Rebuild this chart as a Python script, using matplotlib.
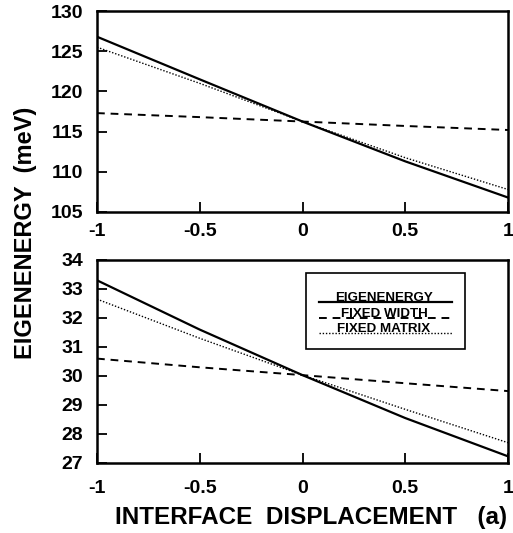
import matplotlib.pyplot as plt
from matplotlib.patches import Rectangle

# ------------------------------------------------------------------
# Data
# ------------------------------------------------------------------
displacement = [-1.0, -0.5, 0.0, 0.5, 1.0]

top_eigen = [126.8, 121.5, 116.25, 111.3, 106.8]
top_fixed_width = [117.3, 116.8, 116.25, 115.7, 115.2]
top_fixed_matrix = [125.5, 121.0, 116.25, 111.75, 107.8]

bot_eigen = [33.3, 31.6, 30.03, 28.55, 27.23]
bot_fixed_width = [30.6, 30.3, 30.03, 29.75, 29.48]
bot_fixed_matrix = [32.65, 31.3, 30.03, 28.85, 27.7]

x_ticks = [-1, -0.5, 0, 0.5, 1]
x_tick_labels = ["-1", "-0.5", "0", "0.5", "1"]
top_y_ticks = [105, 110, 115, 120, 125, 130]
bot_y_ticks = [27, 28, 29, 30, 31, 32, 33, 34]

legend_labels = ["EIGENENERGY", "FIXED WIDTH", "FIXED MATRIX"]

plt.rcParams["font.family"] = ["Liberation Sans", "DejaVu Sans"]
plt.rcParams["font.weight"] = "bold"

fig = plt.figure(figsize=(5.13, 5.33), dpi=100)
ax_top = fig.add_axes([97 / 513, 1 - 212 / 533, 411 / 513, 201 / 533])
ax_bot = fig.add_axes([97 / 513, 1 - 463 / 533, 411 / 513, 203 / 533])

styles = [
    dict(color="black", lw=1.6, ls="-"),
    dict(color="black", lw=1.4, ls=(0, (4, 3))),
    dict(color="black", lw=1.0, ls=(0, (1, 1.3))),
]


def style_axes(ax, yticks, ylim, xpad):
    ax.set_xlim(-1, 1)
    ax.set_ylim(*ylim)
    ax.set_xticks(x_ticks)
    ax.set_xticklabels(x_tick_labels)
    ax.set_yticks(yticks)
    ax.tick_params(direction="in", length=7, width=1.3, labelsize=14,
                   top=False, right=False)
    ax.tick_params(axis="y", pad=10)
    ax.tick_params(axis="x", pad=xpad)
    for s in ax.spines.values():
        s.set_linewidth(1.8)
    for lab in ax.get_xticklabels() + ax.get_yticklabels():
        lab.set_fontweight("bold")


for series, st in zip([top_eigen, top_fixed_width, top_fixed_matrix], styles):
    ax_top.plot(displacement, series, **st)
style_axes(ax_top, top_y_ticks, (105, 130), 8)

for series, st in zip([bot_eigen, bot_fixed_width, bot_fixed_matrix], styles):
    ax_bot.plot(displacement, series, **st)
style_axes(ax_bot, bot_y_ticks, (27, 34), 12)

# ------------------------------------------------------------------
# Legend box (lines run under the text, as in the original)
# ------------------------------------------------------------------
ax_bot.add_patch(Rectangle((0.508, 0.562), 0.387, 0.374, transform=ax_bot.transAxes,
                           fill=False, lw=1.2, color="black"))
line_y = [0.795, 0.713, 0.639]
for label, ly, st in zip(legend_labels, line_y, styles):
    ax_bot.plot([0.54, 0.864], [ly, ly], transform=ax_bot.transAxes, **st)
    ax_bot.text(0.698, ly + 0.004, label, transform=ax_bot.transAxes,
                ha="center", va="baseline", fontsize=9.6, fontweight="bold")

fig.text(0.049, 0.563, "EIGENENERGY  (meV)", rotation=90, ha="center", va="center",
         fontsize=17, fontweight="bold")
fig.text(0.606, 0.030, "INTERFACE  DISPLACEMENT   (a)", ha="center", va="center",
         fontsize=17.5, fontweight="bold")

fig.savefig("out.png", dpi=100)
